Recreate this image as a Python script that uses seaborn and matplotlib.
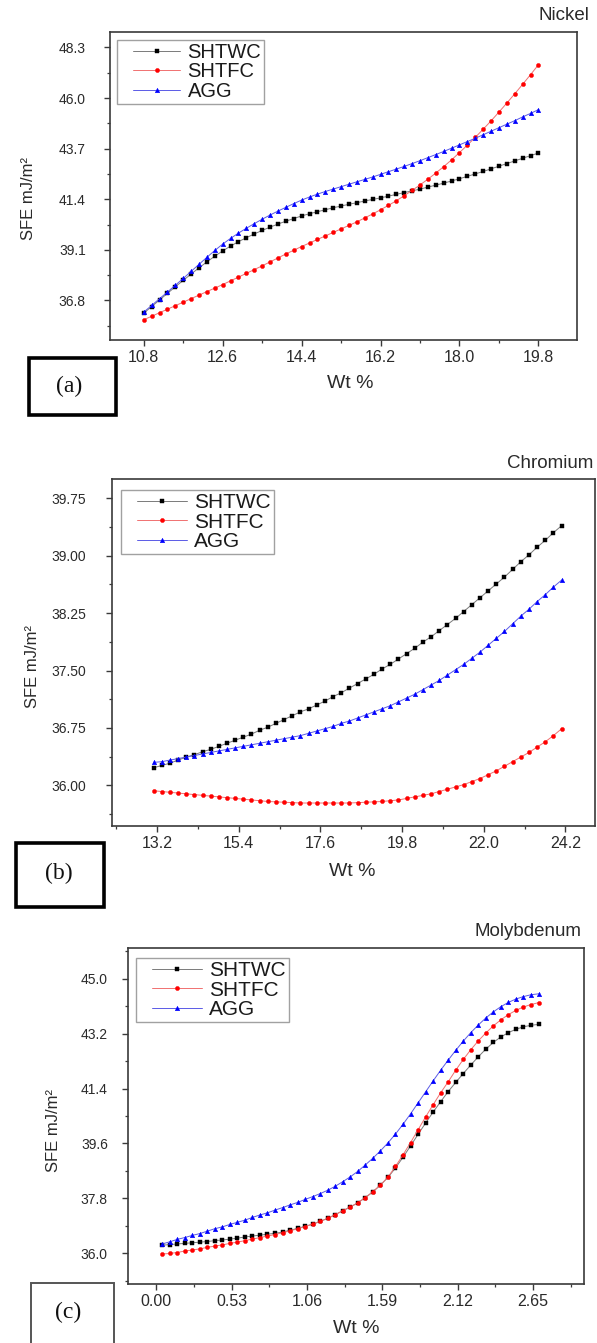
import numpy as np
import matplotlib
matplotlib.use("Agg")
import matplotlib.pyplot as plt
from matplotlib.patches import Rectangle
from matplotlib.ticker import MultipleLocator, FormatStrFormatter
from matplotlib.legend_handler import HandlerLine2D
import seaborn as sns

# ---------------- data ----------------
series_names = ["SHTWC", "SHTFC", "AGG"]

ni_wt = [10.80, 10.98, 11.16, 11.34, 11.52, 11.70, 11.88, 12.06, 12.24, 12.42,
         12.60, 12.78, 12.96, 13.14, 13.32, 13.50, 13.68, 13.86, 14.04, 14.22,
         14.40, 14.58, 14.76, 14.94, 15.12, 15.30, 15.48, 15.66, 15.84, 16.02,
         16.20, 16.38, 16.56, 16.74, 16.92, 17.10, 17.28, 17.46, 17.64, 17.82,
         18.00, 18.18, 18.36, 18.54, 18.72, 18.90, 19.08, 19.26, 19.44, 19.62, 19.80]
ni_shtwc = [36.22, 36.52, 36.82, 37.12, 37.42, 37.71, 38.00, 38.28, 38.55, 38.81,
            39.05, 39.27, 39.47, 39.65, 39.82, 39.98, 40.13, 40.27, 40.40, 40.52,
            40.64, 40.74, 40.83, 40.92, 41.01, 41.09, 41.17, 41.24, 41.32, 41.39,
            41.46, 41.54, 41.62, 41.70, 41.78, 41.86, 41.95, 42.04, 42.13, 42.23,
            42.33, 42.44, 42.55, 42.66, 42.78, 42.90, 43.02, 43.14, 43.26, 43.38, 43.50]
ni_shtfc = [35.92, 36.08, 36.24, 36.40, 36.56, 36.72, 36.88, 37.04, 37.20, 37.36,
            37.52, 37.69, 37.86, 38.03, 38.20, 38.37, 38.55, 38.73, 38.91, 39.08,
            39.25, 39.41, 39.57, 39.73, 39.89, 40.05, 40.21, 40.37, 40.55, 40.73,
            40.92, 41.12, 41.33, 41.56, 41.80, 42.05, 42.31, 42.59, 42.88, 43.19,
            43.52, 43.86, 44.21, 44.58, 44.96, 45.36, 45.77, 46.19, 46.62, 47.06, 47.51]
ni_agg = [36.27, 36.57, 36.88, 37.18, 37.49, 37.80, 38.12, 38.44, 38.76, 39.07,
          39.36, 39.62, 39.86, 40.08, 40.29, 40.49, 40.68, 40.86, 41.03, 41.20,
          41.36, 41.50, 41.63, 41.75, 41.86, 41.97, 42.08, 42.19, 42.30, 42.41,
          42.53, 42.65, 42.77, 42.89, 43.02, 43.15, 43.29, 43.43, 43.57, 43.72,
          43.87, 44.02, 44.17, 44.33, 44.49, 44.65, 44.81, 44.97, 45.14, 45.30, 45.47]

cr_wt = [13.10, 13.32, 13.54, 13.76, 13.98, 14.20, 14.42, 14.64, 14.86, 15.08,
         15.30, 15.52, 15.74, 15.96, 16.18, 16.40, 16.62, 16.84, 17.06, 17.28,
         17.50, 17.72, 17.94, 18.16, 18.38, 18.60, 18.82, 19.04, 19.26, 19.48,
         19.70, 19.92, 20.14, 20.36, 20.58, 20.80, 21.02, 21.24, 21.46, 21.68,
         21.90, 22.12, 22.34, 22.56, 22.78, 23.00, 23.22, 23.44, 23.66, 23.88, 24.10]
cr_shtwc = [36.23, 36.26, 36.29, 36.33, 36.37, 36.40, 36.44, 36.47, 36.51, 36.55,
            36.59, 36.63, 36.67, 36.72, 36.76, 36.81, 36.86, 36.91, 36.96, 37.00,
            37.05, 37.10, 37.16, 37.21, 37.27, 37.33, 37.39, 37.45, 37.52, 37.58,
            37.65, 37.72, 37.79, 37.87, 37.94, 38.02, 38.10, 38.18, 38.27, 38.36,
            38.45, 38.54, 38.63, 38.72, 38.82, 38.92, 39.01, 39.11, 39.20, 39.30, 39.39]
cr_shtfc = [35.93, 35.92, 35.91, 35.90, 35.89, 35.88, 35.87, 35.86, 35.85, 35.84,
            35.83, 35.82, 35.81, 35.80, 35.79, 35.785, 35.78, 35.775, 35.77, 35.77,
            35.77, 35.77, 35.77, 35.77, 35.77, 35.775, 35.78, 35.785, 35.79, 35.80,
            35.81, 35.83, 35.85, 35.87, 35.89, 35.92, 35.95, 35.98, 36.01, 36.05,
            36.09, 36.14, 36.19, 36.25, 36.31, 36.37, 36.43, 36.50, 36.57, 36.65, 36.74]
cr_agg = [36.30, 36.31, 36.33, 36.35, 36.37, 36.39, 36.41, 36.43, 36.45, 36.47,
          36.49, 36.51, 36.53, 36.55, 36.57, 36.59, 36.61, 36.63, 36.65, 36.68,
          36.71, 36.74, 36.77, 36.81, 36.84, 36.88, 36.92, 36.96, 37.00, 37.04,
          37.09, 37.14, 37.19, 37.25, 37.31, 37.37, 37.44, 37.51, 37.58, 37.66,
          37.74, 37.83, 37.92, 38.01, 38.11, 38.21, 38.30, 38.40, 38.49, 38.59, 38.68]

mo_wt = [0.040, 0.093, 0.146, 0.199, 0.252, 0.305, 0.358, 0.411, 0.464, 0.517,
         0.570, 0.623, 0.676, 0.729, 0.782, 0.835, 0.888, 0.941, 0.994, 1.047,
         1.100, 1.153, 1.206, 1.259, 1.312, 1.365, 1.418, 1.471, 1.524, 1.577,
         1.630, 1.683, 1.736, 1.789, 1.842, 1.895, 1.948, 2.001, 2.054, 2.107,
         2.160, 2.213, 2.266, 2.319, 2.372, 2.425, 2.478, 2.531, 2.584, 2.637, 2.690]
mo_shtwc = [36.27, 36.29, 36.31, 36.33, 36.35, 36.37, 36.39, 36.42, 36.44, 36.47,
            36.50, 36.54, 36.57, 36.60, 36.63, 36.66, 36.70, 36.76, 36.82, 36.89,
            36.96, 37.05, 37.15, 37.27, 37.40, 37.52, 37.66, 37.83, 38.02, 38.24,
            38.49, 38.80, 39.15, 39.52, 39.90, 40.27, 40.63, 40.97, 41.30, 41.60,
            41.89, 42.17, 42.44, 42.69, 42.91, 43.09, 43.23, 43.34, 43.42, 43.47, 43.50]
mo_shtfc = [35.98, 36.00, 36.03, 36.08, 36.11, 36.15, 36.20, 36.24, 36.28, 36.33,
            36.37, 36.42, 36.47, 36.52, 36.57, 36.62, 36.68, 36.74, 36.81, 36.88,
            36.96, 37.05, 37.15, 37.27, 37.40, 37.52, 37.66, 37.83, 38.02, 38.24,
            38.50, 38.85, 39.23, 39.63, 40.05, 40.47, 40.87, 41.26, 41.62, 42.00,
            42.35, 42.67, 42.96, 43.22, 43.45, 43.65, 43.82, 43.96, 44.07, 44.15, 44.21]
mo_agg = [36.31, 36.38, 36.46, 36.52, 36.59, 36.65, 36.73, 36.81, 36.87, 36.95,
          37.02, 37.09, 37.18, 37.26, 37.33, 37.42, 37.50, 37.59, 37.67, 37.77,
          37.86, 37.96, 38.07, 38.20, 38.35, 38.51, 38.69, 38.90, 39.12, 39.36,
          39.62, 39.91, 40.23, 40.57, 40.93, 41.29, 41.65, 42.00, 42.33, 42.65,
          42.95, 43.23, 43.48, 43.71, 43.91, 44.08, 44.22, 44.33, 44.41, 44.47, 44.50]

ni_xticks = [10.8, 12.6, 14.4, 16.2, 18.0, 19.8]
ni_yticks = [36.8, 39.1, 41.4, 43.7, 46.0, 48.3]
cr_xticks = [13.2, 15.4, 17.6, 19.8, 22.0, 24.2]
cr_yticks = [36.00, 36.75, 37.50, 38.25, 39.00, 39.75]
mo_xticks = [0.00, 0.53, 1.06, 1.59, 2.12, 2.65]
mo_yticks = [36.0, 37.8, 39.6, 41.4, 43.2, 45.0]

# ---------------- style ----------------
sns.set_style("ticks")
plt.rcParams["font.family"] = ["Liberation Sans", "DejaVu Sans"]

W, H = 597, 1343
fig = plt.figure(figsize=(W / 100, H / 100), dpi=100)
fig.patch.set_facecolor("white")


def px_axes(l, t, r, b):
    return fig.add_axes([l / W, 1 - b / H, (r - l) / W, (b - t) / H])


marker_cols = ["#000000", "#ff0000", "#0000ff"]
line_cols = ["#7a7a7a", "#f07070", "#5a5ae6"]
markers = ["s", "o", "^"]
msizes = [2.6, 3.0, 3.3]


class InsetLine(HandlerLine2D):
    def __init__(self, inset=8.0, **kw):
        super().__init__(**kw)
        self.inset = inset

    def create_artists(self, legend, orig_handle, xdescent, ydescent,
                       width, height, fontsize, trans):
        arts = super().create_artists(legend, orig_handle, xdescent, ydescent,
                                      width, height, fontsize, trans)
        for a in arts:
            xd = np.asarray(a.get_xdata(), float)
            lo, hi = xd.min(), xd.max()
            if hi > lo:
                a.set_xdata(lo + self.inset + (xd - lo) * (hi - lo - self.inset) / (hi - lo))
        return arts


def panel(ax, x, ys, xlim, ylim, xticks, yticks, xstep_minor, ystep_minor,
          xfmt, yfmt, leg_off, ylab_pos, xlab_pos, ypad, legfs):
    for name, y, mc, lc, mk, ms in zip(series_names, ys, marker_cols, line_cols, markers, msizes):
        sns.lineplot(x=x, y=y, ax=ax, color=lc, linewidth=0.7, marker=mk,
                     markersize=ms, markerfacecolor=mc, markeredgecolor=mc,
                     markeredgewidth=0.3, label=name, sort=False)
    ax.set_xlim(*xlim)
    ax.set_ylim(*ylim)
    ax.set_xticks(xticks)
    ax.set_yticks(yticks)
    ax.xaxis.set_minor_locator(MultipleLocator(xstep_minor, offset=xticks[0] % xstep_minor))
    ax.yaxis.set_minor_locator(MultipleLocator(ystep_minor, offset=yticks[0] % ystep_minor))
    ax.xaxis.set_major_formatter(FormatStrFormatter(xfmt))
    ax.yaxis.set_major_formatter(FormatStrFormatter(yfmt))
    for s in ax.spines.values():
        s.set_visible(True)
        s.set_color("#3a3a3a")
        s.set_linewidth(1.2)
    ax.tick_params(which="major", direction="out", length=4.5, width=1.0,
                   colors="#3a3a3a", labelcolor="#2a2a2a",
                   top=False, right=False)
    ax.tick_params(axis="y", which="major", pad=ypad, labelsize=10)
    ax.tick_params(axis="x", which="major", pad=3, labelsize=11.5)
    ax.tick_params(which="minor", direction="out", length=2.5, width=0.9,
                   colors="#3a3a3a", top=False, right=False)
    ax.set_xlabel("Wt %", fontsize=14, color="#2a2a2a")
    ax.set_ylabel("SFE mJ/m²", fontsize=12, color="#2a2a2a")
    ax.xaxis.label.set_va("center")
    ax.yaxis.label.set_va("center")
    ax.xaxis.set_label_coords(*xlab_pos)
    ax.yaxis.set_label_coords(*ylab_pos)
    handles, labels = ax.get_legend_handles_labels()
    leg = ax.legend(handles, labels, loc="upper left", bbox_to_anchor=leg_off,
                    borderaxespad=0, frameon=True, fancybox=False,
                    edgecolor="#8a8a8a", fontsize=legfs, handlelength=3.0,
                    handletextpad=0.35, labelspacing=0.02, borderpad=0.15,
                    numpoints=1,
                    handler_map={h: InsetLine(inset=9.4) for h in handles})
    leg.get_frame().set_linewidth(1.0)
    for t in leg.get_texts():
        t.set_color("#1a1a1a")
    ax.grid(False)


# Panel (a) Nickel
ax_a = px_axes(110, 32, 577, 340)
panel(ax_a, ni_wt, [ni_shtwc, ni_shtfc, ni_agg], (10.03, 20.68), (35.0, 49.0),
      ni_xticks, ni_yticks, 0.9, 1.15, "%.1f", "%.1f",
      (7 / 467, 1 - 8 / 308), (-0.174, 0.461), (0.514, -0.140), 13, 14.5)

# Panel (b) Chromium
ax_b = px_axes(112, 479, 595, 826)
panel(ax_b, cr_wt, [cr_shtwc, cr_shtfc, cr_agg], (11.98, 25.0), (35.47, 40.0),
      cr_xticks, cr_yticks, 1.1, 0.375, "%.1f", "%.2f",
      (9 / 483, 1 - 11 / 347), (-0.165, 0.459), (0.497, -0.132), 14, 15)

# Panel (c) Molybdenum
ax_c = px_axes(128, 948, 584, 1284)
panel(ax_c, mo_wt, [mo_shtwc, mo_shtfc, mo_agg], (-0.2, 3.01), (35.0, 46.0),
      mo_xticks, mo_yticks, 0.265, 0.9, "%.2f", "%.1f",
      (8 / 456, 1 - 10 / 336), (-0.163, 0.458), (0.5, -0.132), 10, 15)

# element names
for txt, xr, yc in [("Nickel", 589, 15), ("Chromium", 593, 463), ("Molybdenum", 581, 932)]:
    fig.text(xr / W, 1 - yc / H, txt, ha="right", va="center", fontsize=13.5, color="#2a2a2a")

# panel letter boxes
for lab, (l, t, r, b), lw, ec, (cx, cy) in [
        ("(a)", (29, 358, 116, 415), 2.6, "#000000", (69, 386)),
        ("(b)", (16, 843, 104, 907), 2.6, "#000000", (59, 873)),
        ("(c)", (31, 1283, 114, 1360), 1.4, "#555555", (68, 1312))]:
    fig.patches.append(Rectangle((l / W, 1 - b / H), (r - l) / W, (b - t) / H,
                                 transform=fig.transFigure, fill=False,
                                 edgecolor=ec, linewidth=lw))
    fig.text(cx / W, 1 - cy / H, lab, ha="center", va="center", fontsize=17,
             family=["Liberation Serif", "DejaVu Serif"], color="#111111")

fig.savefig("out.png", dpi=100)
